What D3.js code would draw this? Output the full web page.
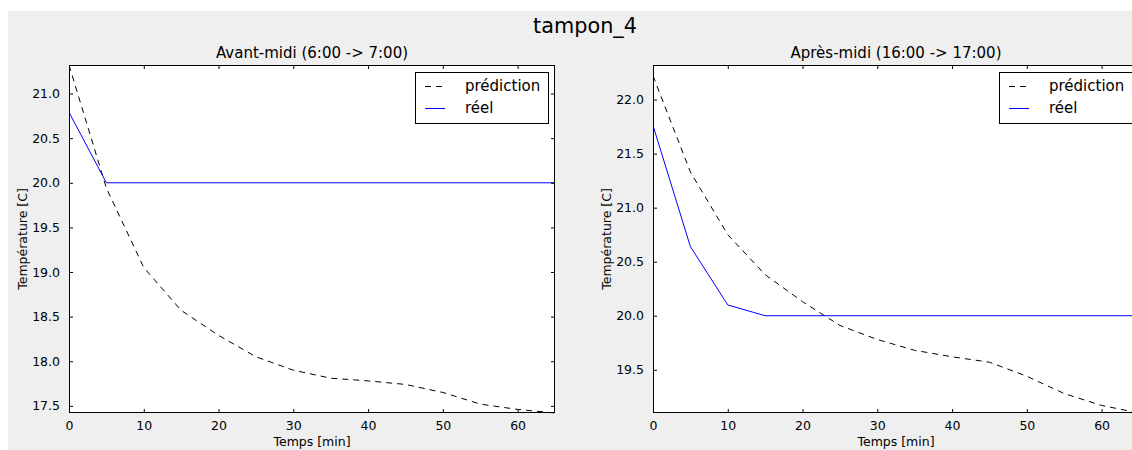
<!DOCTYPE html>
<html>
<head>
<meta charset="utf-8">
<script src="https://cdn.jsdelivr.net/npm/d3@7"></script>
<style>
  html, body { margin: 0; padding: 0; background: #ffffff; }
  svg { display: block; font-family: "DejaVu Sans", sans-serif; }
</style>
</head>
<body>
<div id="chart"></div>
<script>
// ---- data ----
const suptitle = "tampon_4";
const times = [0, 5, 10, 15, 20, 25, 30, 35, 40, 45, 50, 55, 60, 65];
const predAM = [21.32, 19.94, 19.05, 18.57, 18.29, 18.05, 17.90, 17.81, 17.78, 17.74, 17.65, 17.52, 17.46, 17.42];
const realAM = [20.79, 20.0, 20.0, 20.0, 20.0, 20.0, 20.0, 20.0, 20.0, 20.0, 20.0, 20.0, 20.0, 20.0];
const predPM = [22.22, 21.33, 20.75, 20.38, 20.13, 19.91, 19.78, 19.68, 19.62, 19.57, 19.44, 19.28, 19.17, 19.10];
const realPM = [21.76, 20.64, 20.10, 20.0, 20.0, 20.0, 20.0, 20.0, 20.0, 20.0, 20.0, 20.0, 20.0, 20.0];
const xTicks = [0, 10, 20, 30, 40, 50, 60];
const yTicksAM = [17.5, 18.0, 18.5, 19.0, 19.5, 20.0, 20.5, 21.0];
const yTicksPM = [19.5, 20.0, 20.5, 21.0, 21.5, 22.0];
const titles = ["Avant-midi (6:00 -> 7:00)", "Après-midi (16:00 -> 17:00)"];
const xLabel = "Temps [min]";
const yLabel = "Température [C]";
const legendLabels = ["prédiction", "réel"];

// ---- layout ----
const W = 1132, H = 450;
const svg = d3.select("#chart").append("svg").attr("width", W).attr("height", H);
svg.append("rect").attr("x", 8).attr("y", 11).attr("width", W - 8).attr("height", H - 11).attr("fill", "#efefef");

svg.append("text").attr("x", 585).attr("y", 33).attr("text-anchor", "middle")
  .attr("font-size", 20.8).attr("fill", "#000").text(suptitle);

function panel(p) {
  const x = d3.scaleLinear().domain([0, 65]).range([p.left, p.right]);
  const y = d3.scaleLinear().domain(p.ydom).range([p.bottom, p.top]);
  const g = svg.append("g");
  g.append("rect").attr("x", p.left).attr("y", p.top)
    .attr("width", p.right - p.left).attr("height", p.bottom - p.top).attr("fill", "#fff");

  const clipId = "clip" + p.id;
  svg.append("clipPath").attr("id", clipId).append("rect")
    .attr("x", p.left).attr("y", p.top - 1).attr("width", p.right - p.left).attr("height", p.bottom - p.top + 2);

  const line = d3.line().x((d, i) => x(times[i])).y(d => y(d));
  const lines = g.append("g").attr("clip-path", `url(#${clipId})`);
  lines.append("path").datum(p.pred).attr("d", line).attr("fill", "none")
    .attr("stroke", "#000").attr("stroke-width", 1).attr("stroke-dasharray", "6,5");
  lines.append("path").datum(p.real).attr("d", line).attr("fill", "none")
    .attr("stroke", "#0000ff").attr("stroke-width", 1);

  // axes (ticks inside, on all sides)
  const tl = 4;
  const ax = g.append("g").attr("font-size", 12.5).attr("fill", "#000");
  const bottomAxis = d3.axisBottom(x).tickValues(xTicks).tickSizeInner(-tl).tickSizeOuter(0).tickPadding(8).tickFormat(d3.format("d"));
  const topAxis = d3.axisTop(x).tickValues(xTicks).tickSizeInner(-tl).tickSizeOuter(0).tickFormat("");
  const leftAxis = d3.axisLeft(y).tickValues(p.yticks).tickSizeInner(-tl).tickSizeOuter(0).tickPadding(9).tickFormat(d3.format(".1f"));
  const rightAxis = d3.axisRight(y).tickValues(p.yticks).tickSizeInner(-tl).tickSizeOuter(0).tickFormat("");
  const gb = g.append("g").attr("transform", `translate(0,${p.bottom})`).call(bottomAxis);
  const gt = g.append("g").attr("transform", `translate(0,${p.top})`).call(topAxis);
  const gl = g.append("g").attr("transform", `translate(${p.left},0)`).call(leftAxis);
  const gr = g.append("g").attr("transform", `translate(${p.right},0)`).call(rightAxis);
  [gb, gt, gl, gr].forEach(a => {
    a.select(".domain").remove();
    a.selectAll("text").attr("font-family", "DejaVu Sans").attr("font-size", 12.5).attr("fill", "#000");
    a.selectAll("line").attr("stroke", "#000");
  });
  g.append("rect").attr("x", p.left + 0.5).attr("y", p.top + 0.5)
    .attr("width", p.right - p.left - 1).attr("height", p.bottom - p.top - 1)
    .attr("fill", "none").attr("stroke", "#000").attr("stroke-width", 1);

  // titles & labels
  g.append("text").attr("x", (p.left + p.right) / 2).attr("y", 58).attr("text-anchor", "middle")
    .attr("font-size", 15).attr("fill", "#000").text(p.title);
  g.append("text").attr("x", (p.left + p.right) / 2).attr("y", 446).attr("text-anchor", "middle")
    .attr("font-size", 12.5).attr("fill", "#000").text(xLabel);
  g.append("text").attr("transform", `translate(${p.ylabX},${(p.top + p.bottom) / 2}) rotate(-90)`)
    .attr("text-anchor", "middle").attr("font-size", 12.5).attr("fill", "#000").text(yLabel);

  // legend
  const lw = 133, lh = 51;
  const lx = p.right - 7 - lw, ly = p.top + 7;
  const lg = g.append("g");
  lg.append("rect").attr("x", lx + 0.5).attr("y", ly + 0.5).attr("width", lw).attr("height", lh)
    .attr("fill", "#fff").attr("stroke", "#000").attr("stroke-width", 1);
  const rows = [{ c: "#000", dash: "6,5", y: ly + 14 }, { c: "#0000ff", dash: null, y: ly + 36 }];
  rows.forEach((r, i) => {
    lg.append("line").attr("x1", lx + 10).attr("x2", lx + 30).attr("y1", r.y + 0.5).attr("y2", r.y + 0.5)
      .attr("stroke", r.c).attr("stroke-width", 1).attr("stroke-dasharray", r.dash);
    lg.append("text").attr("x", lx + 50).attr("y", r.y + 5).attr("font-size", 15).attr("fill", "#000")
      .text(legendLabels[i]);
  });
}

panel({ id: "am", left: 69, right: 555, top: 65, bottom: 413, ydom: [17.42, 21.32], yticks: yTicksAM,
        pred: predAM, real: realAM, title: titles[0], ylabX: 26.5 });
panel({ id: "pm", left: 653, right: 1139, top: 65, bottom: 413, ydom: [19.10, 22.32], yticks: yTicksPM,
        pred: predPM, real: realPM, title: titles[1], ylabX: 610.5 });
</script>
</body>
</html>
